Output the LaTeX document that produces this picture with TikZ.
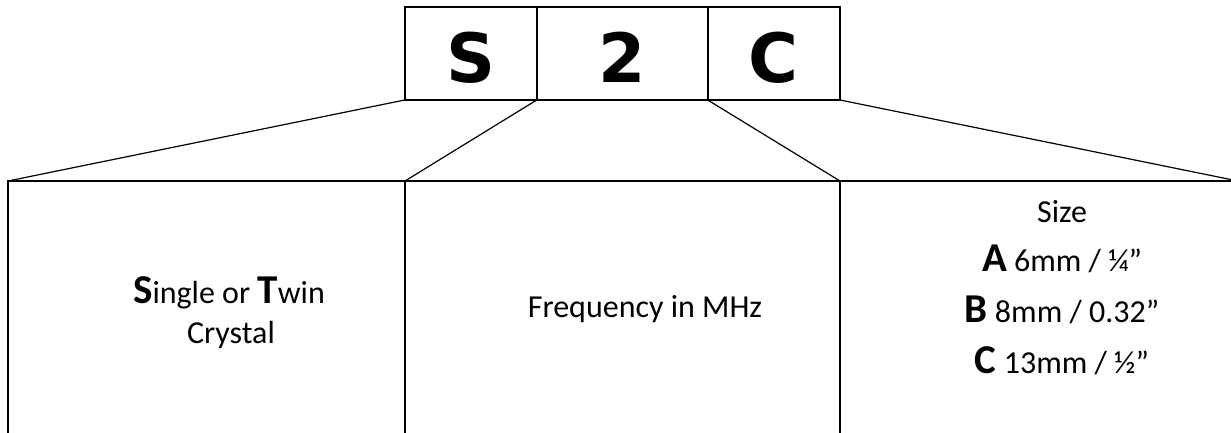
\documentclass[tikz,border=0pt]{standalone}
\usepackage{fontspec}
\setmainfont{Carlito}
\newfontfamily\codefont{DejaVu Sans}
% bold initial letters set larger than the running text
\newcommand\keyletter[1]{{\fontsize{41pt}{49pt}\selectfont\bfseries #1}}
\begin{document}
\begin{tikzpicture}[x=1pt,y=-1pt,
  frame/.style={draw, line width=2pt, rectangle, inner sep=0pt, outer sep=0pt},
  topbox/.style={frame, minimum height=93.3pt},
  lowbox/.style={frame, minimum height=270pt, anchor=north west},
  link/.style={line width=1.2pt},
  code/.style={font=\codefont\fontsize{68pt}{80pt}\selectfont\bfseries, anchor=base, inner sep=0pt},
  body/.style={font=\fontsize{32pt}{39pt}\selectfont, anchor=base, inner sep=0pt}]
\useasboundingbox (0,0) rectangle (1231,432);
\clip (0,0) rectangle (1231,432);

% code boxes
\node[topbox, minimum width=132pt]   (bs) at (470.7,53.35) {};
\node[topbox, minimum width=171pt]   (bn) at (622.2,53.35) {};
\node[topbox, minimum width=132.3pt] (bc) at (773.85,53.35) {};
\node[code] (ls) at (470.7,82) {S};
\node[code] (ln) at (622.2,82) {2};
\node[code] (lc) at (773.85,82) {C};

% explanation boxes
\node[lowbox, minimum width=397pt] (el) at (8,181) {};
\node[lowbox, minimum width=435pt] (em) at (405,181) {};
\node[lowbox, minimum width=398pt] (er) at (840,181) {};

% fan-out lines
\draw[link] (bs.south west) -- (el.north west);
\draw[link] (bs.south east) -- (em.north west);
\draw[link] (bc.south west) -- (er.north west);
\draw[link] (bc.south east) -- (er.north east);

% texts
\node[body] (t1) at (229,303) {\keyletter{S}ingle or \keyletter{T}win};
\node[body] (t2) at (231,343) {Crystal};
\node[body] (t3) at (645,317) {Frequency in MHz};
\node[body] (t4) at (1062,222) {Size};
\node[body] (t5) at (1062,271) {\keyletter{A} 6mm / ¼”};
\node[body] (t6) at (1062,322) {\keyletter{B} 8mm / 0.32”};
\node[body] (t7) at (1062,373) {\keyletter{C} 13mm / ½”};
\end{tikzpicture}
\end{document}
